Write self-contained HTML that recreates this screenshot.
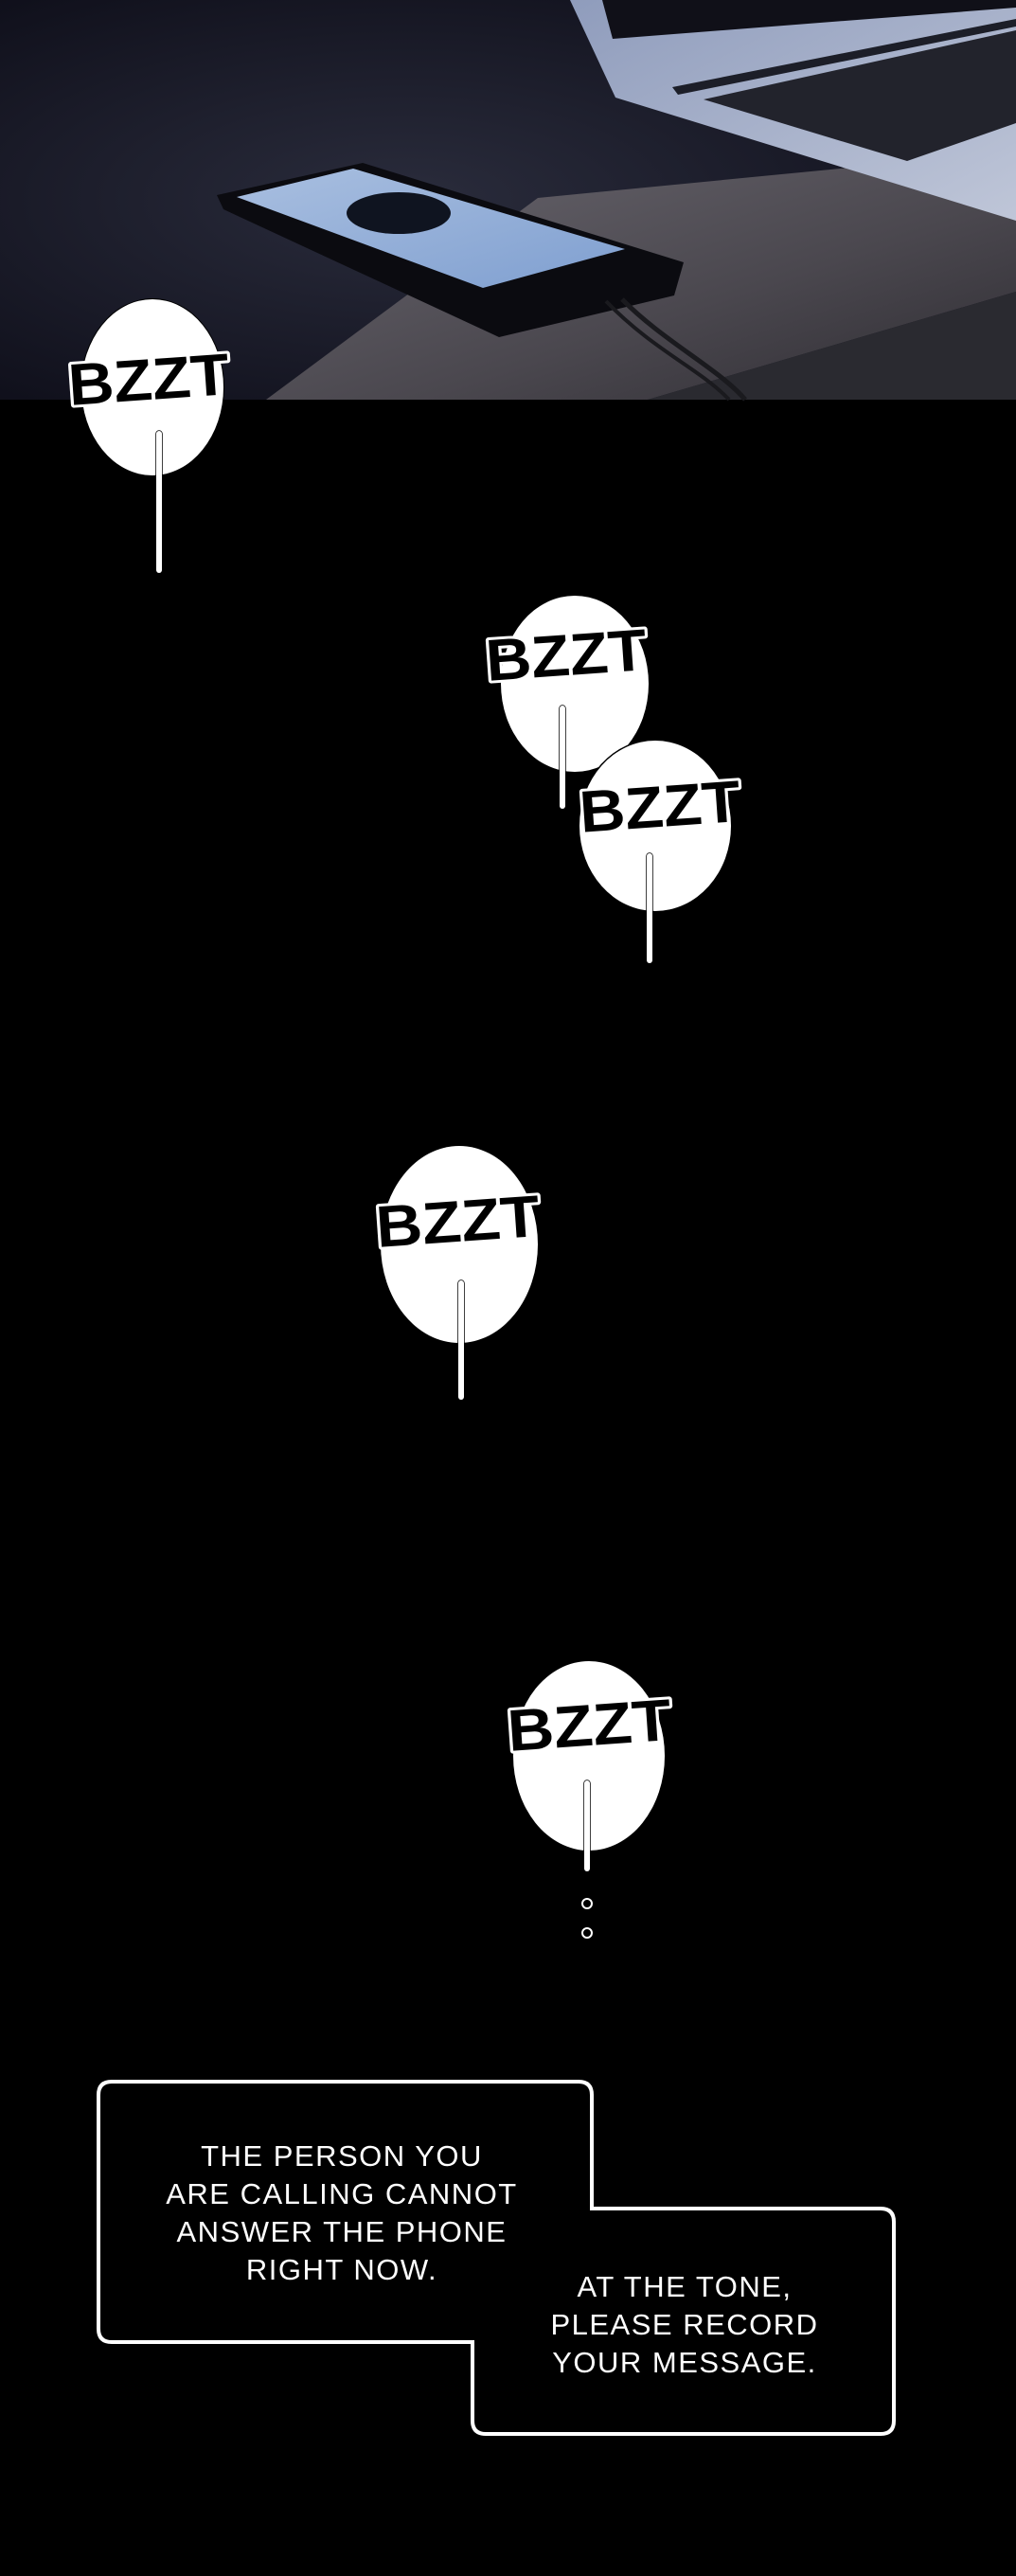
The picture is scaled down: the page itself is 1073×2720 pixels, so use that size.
<!DOCTYPE html>
<html><head><meta charset="utf-8"><style>
html,body{margin:0;padding:0;background:#000;}
body{width:1073px;height:2720px;overflow:hidden;position:relative;}
svg{position:absolute;left:0;top:0;}
</style></head><body>
<svg width="1073" height="2720" viewBox="0 0 1073 2720" xmlns="http://www.w3.org/2000/svg">
<defs>
<radialGradient id="bg" cx="0.4" cy="0.5" r="0.7">
<stop offset="0" stop-color="#2a2c3c"/><stop offset="1" stop-color="#0d0d18"/>
</radialGradient>
<linearGradient id="desk" x1="0" y1="0" x2="1" y2="1">
<stop offset="0" stop-color="#6b6870"/><stop offset="0.6" stop-color="#4a474e"/><stop offset="1" stop-color="#2e2c32"/>
</linearGradient>
<linearGradient id="scr" x1="0" y1="0" x2="1" y2="1">
<stop offset="0" stop-color="#a9bfe0"/><stop offset="1" stop-color="#7f9fd0"/>
</linearGradient>
<linearGradient id="lap" x1="0" y1="0" x2="1" y2="1">
<stop offset="0" stop-color="#8f9cbc"/><stop offset="1" stop-color="#bfc6d8"/>
</linearGradient>
</defs>
<rect x="0" y="0" width="1073" height="2720" fill="#000"/>
<rect x="0" y="0" width="1073" height="422" fill="url(#bg)"/>
<polygon points="568,209 1073,160 1073,308 684,422 281,422" fill="url(#desk)"/>
<polygon points="684,422 1073,308 1073,422" fill="#2a2a30"/>
<polygon points="602,0 1073,0 1073,233 650,103" fill="url(#lap)"/>
<polygon points="636,0 1073,0 1073,8 647,41" fill="#101018"/>
<polygon points="710,92 1073,20 1073,28 716,100" fill="#1c1e28"/>
<polygon points="743,105 1073,32 1073,130 958,170" fill="#22232c"/>
<polygon points="229,206 383,172 722,277 712,312 527,356 236,221" fill="#0b0b10"/>
<polygon points="250,208 373,178 660,263 510,304" fill="url(#scr)"/>
<ellipse cx="421" cy="225" rx="55" ry="22" fill="#0f1420"/>
<path d="M657,316 C700,360 760,390 787,422" stroke="#1a1a1e" stroke-width="5" fill="none"/>
<path d="M640,318 C690,370 740,390 770,422" stroke="#1a1a1e" stroke-width="4" fill="none"/>

<g font-family="Liberation Sans, sans-serif" font-weight="bold" font-size="62" fill="#000" stroke="#fff" stroke-width="6" paint-order="stroke" stroke-linejoin="round">
<ellipse cx="161" cy="409" rx="75" ry="93" fill="#fff" stroke="#000" stroke-width="2"/>
<text x="72" y="422" textLength="170" lengthAdjust="spacingAndGlyphs" transform="rotate(-4 157 400)">BZZT</text>
<rect x="165" y="455" width="6" height="150" rx="3" fill="#fff" stroke="#000" stroke-width="1.5"/>
<ellipse cx="607" cy="722" rx="78" ry="93" fill="#fff" stroke="#000" stroke-width="2"/>
<text x="513" y="713" textLength="170" lengthAdjust="spacingAndGlyphs" transform="rotate(-4 598 693)">BZZT</text>
<rect x="591" y="745" width="6" height="109" rx="3" fill="#fff" stroke="#000" stroke-width="1.5"/>
<ellipse cx="692" cy="872" rx="80" ry="90" fill="#fff" stroke="#000" stroke-width="3"/>
<text x="612" y="873" textLength="170" lengthAdjust="spacingAndGlyphs" transform="rotate(-4 696 853)">BZZT</text>
<rect x="683" y="901" width="6" height="116" rx="3" fill="#fff" stroke="#000" stroke-width="1.5"/>
<ellipse cx="485" cy="1314" rx="83" ry="104" fill="#fff" stroke="#000" stroke-width="2"/>
<text x="397" y="1311" textLength="173" lengthAdjust="spacingAndGlyphs" transform="rotate(-4 483 1291)">BZZT</text>
<rect x="484" y="1352" width="6" height="126" rx="3" fill="#fff" stroke="#000" stroke-width="1.5"/>
<ellipse cx="622" cy="1854" rx="80" ry="100" fill="#fff" stroke="#000" stroke-width="2"/>
<text x="536" y="1843" textLength="173" lengthAdjust="spacingAndGlyphs" transform="rotate(-4 622 1823)">BZZT</text>
<rect x="617" y="1880" width="6" height="96" rx="3" fill="#fff" stroke="#000" stroke-width="1.5"/>
</g>
<circle cx="620" cy="2010" r="5" fill="#000" stroke="#fff" stroke-width="2"/>
<circle cx="620" cy="2041" r="5" fill="#000" stroke="#fff" stroke-width="2"/>

<path d="M118,2198 H611 Q625,2198 625,2212 V2332 H930 Q944,2332 944,2346 V2556 Q944,2570 930,2570 H513 Q499,2570 499,2556 V2473 H118 Q104,2473 104,2459 V2212 Q104,2198 118,2198 Z" fill="#000" stroke="#fff" stroke-width="4"/>
<g font-family="Liberation Sans, sans-serif" font-size="31" fill="#fff" text-anchor="middle" letter-spacing="1.5">
<text x="361" y="2287">THE PERSON YOU</text>
<text x="361" y="2327">ARE CALLING CANNOT</text>
<text x="361" y="2367">ANSWER THE PHONE</text>
<text x="361" y="2407">RIGHT NOW.</text>
<text x="723" y="2425">AT THE TONE,</text>
<text x="723" y="2465">PLEASE RECORD</text>
<text x="723" y="2505">YOUR MESSAGE.</text>
</g>
</svg>
</body></html>
